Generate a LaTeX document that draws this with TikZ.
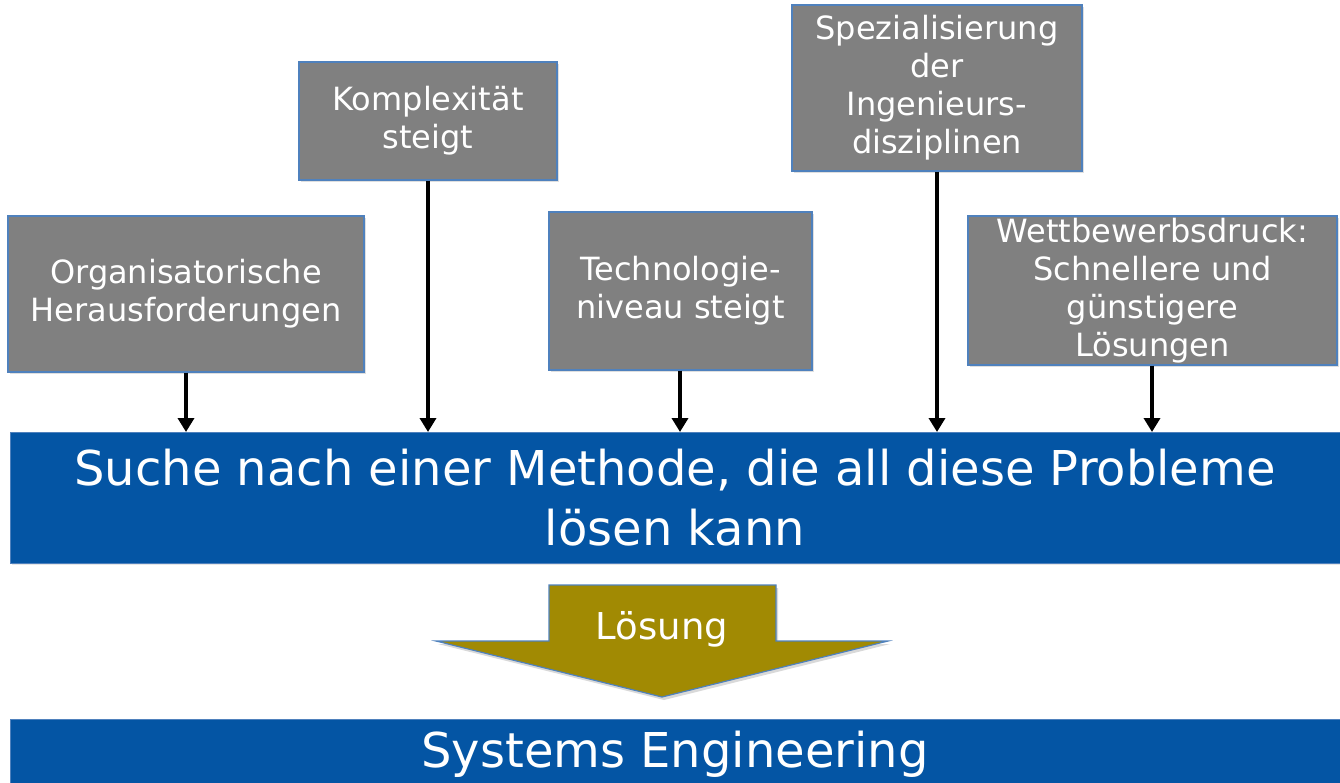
\documentclass[tikz,border=0pt]{standalone}
\usepackage{fontspec}
\setmainfont{DejaVu Sans}
\usetikzlibrary{arrows.meta,shadows}
\definecolor{boxgray}{HTML}{808080}
\definecolor{edgeblue}{HTML}{4F81BD}
\definecolor{mainblue}{HTML}{0455A4}
\definecolor{olive}{HTML}{A18A03}
\tikzset{
  gbox/.style={draw=edgeblue, line width=1.2pt, fill=boxgray, text=white, align=center,
    inner sep=0pt, font=\fontsize{32}{38}\selectfont,
    drop shadow={opacity=0.25, shadow xshift=2pt, shadow yshift=-2pt}},
  bbox/.style={draw=edgeblue, line width=1pt, fill=mainblue, text=white, align=center,
    inner sep=0pt, font=\fontsize{48}{60}\selectfont,
    drop shadow={opacity=0.2, shadow xshift=2pt, shadow yshift=-2pt}},
  feed/.style={line width=3.8pt, -{Triangle[width=16pt,length=14pt]}, black}
}
\begin{document}
\begin{tikzpicture}[x=1pt,y=-1pt]
\useasboundingbox (0,0) rectangle (1340,782);
\node[gbox, minimum width=356pt, minimum height=156pt] (org) at (186,294) {Organisatorische\\Herausforderungen};
\node[gbox, minimum width=258pt, minimum height=118pt] (kom) at (428,121) {Komplexität\\steigt};
\node[gbox, minimum width=263pt, minimum height=158pt] (tec) at (680.5,291) {Technologie-\\niveau steigt};
\node[gbox, minimum width=290pt, minimum height=166pt] (spe) at (937,88) {Spezialisierung\\der\\Ingenieurs-\\disziplinen};
\node[gbox, minimum width=369pt, minimum height=149pt] (wet) at (1152.5,290.5) {Wettbewerbsdruck:\\Schnellere und\\günstigere\\Lösungen};
\node[bbox, minimum width=1330pt, minimum height=131pt] (such) at (675,497.5) {Suche nach einer Methode, die all diese Probleme\\lösen kann};
\node[bbox, minimum width=1330pt, minimum height=70pt, anchor=north] (se) at (675,719) {Systems Engineering};
\coordinate (oa) at (186,432);
\coordinate (ka) at (428,432);
\coordinate (ta) at (680,432);
\coordinate (sa) at (937,432);
\coordinate (wa) at (1152,432);
\draw[feed] (org.south) -- (oa);
\draw[feed] (kom.south) -- (ka);
\draw[feed] (tec.south -| ta) -- (ta);
\draw[feed] (spe.south) -- (sa);
\draw[feed] (wet.south -| wa) -- (wa);
\fill[black, opacity=0.15] (551,588) -- (778,588) -- (778,644) -- (890,644) -- (664,700) -- (438,644) -- (551,644) -- cycle;
\draw[fill=olive, draw=edgeblue, line width=1.2pt] (549,585) -- (776,585) -- (776,641) -- (888,641) -- (662,697) -- (436,641) -- (549,641) -- cycle;
\node[text=white, font=\fontsize{37}{44}\selectfont] (los) at (662,629) {Lösung};
\end{tikzpicture}
\end{document}
